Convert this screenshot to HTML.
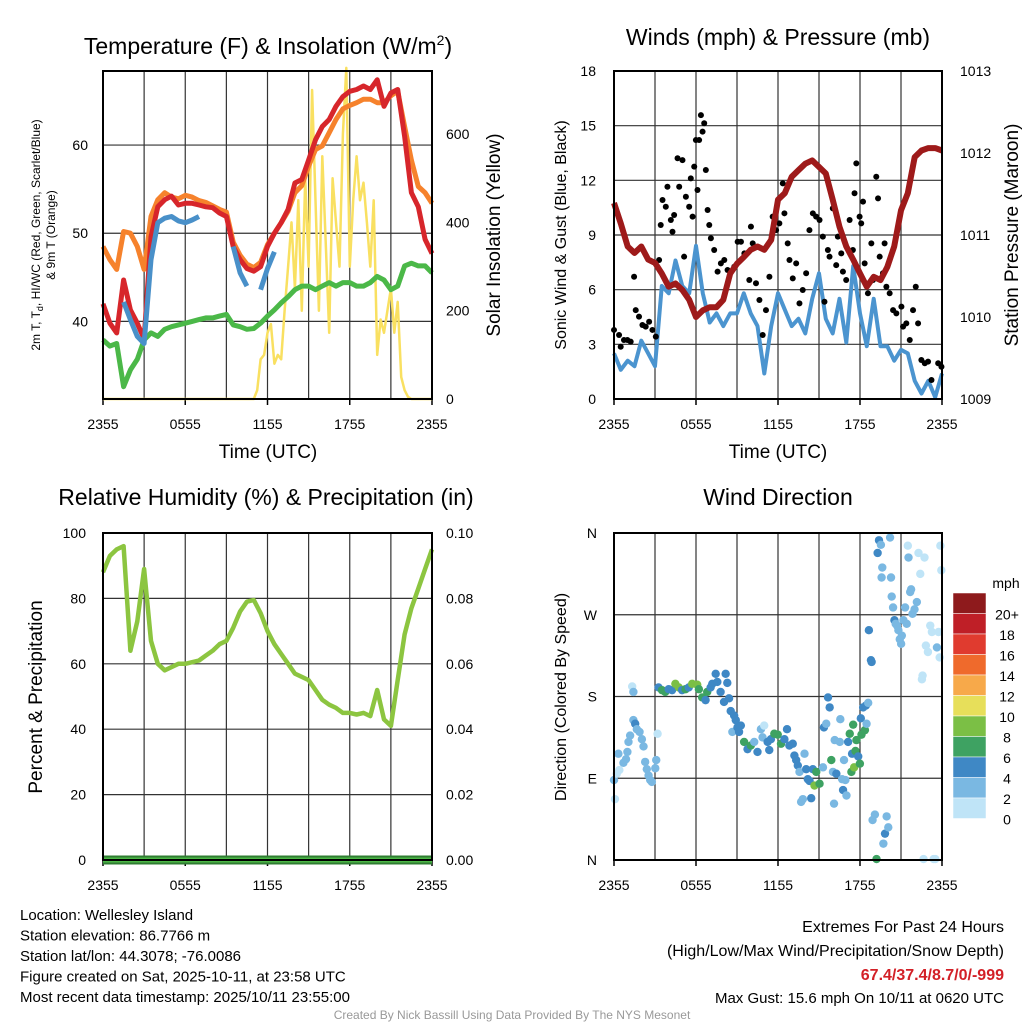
<!DOCTYPE html>
<html><head><meta charset="utf-8"><style>
html,body{margin:0;padding:0;background:#fff;}
svg{display:block;font-family:"Liberation Sans",sans-serif;}
</style></head><body>
<svg id="chart" width="1024" height="1024" viewBox="0 0 1024 1024"></svg>
<script>
// ---------- DATA ----------
const halfHours = Array.from({length:49},(_,i)=>i*0.5);
const tempRed = [42,39.8,38.7,44.7,41.3,39.8,38,49.6,53,53.8,54.2,53.2,53.4,53.4,53.2,53,52.9,52.3,51.9,48.5,47,46,45.7,46.2,48.5,50,51.2,52.7,55.7,56.1,58.3,60.6,62.1,62.9,64.4,65.5,66.1,66.3,66.7,66.3,67.4,64.4,65.9,66.3,61,54.6,53,49.3,47.7];
const tempOrange = [48.5,47,45.9,50.2,50,48.5,45.9,51.9,53.8,54.6,54.1,53.9,54.3,54.1,53.7,53.5,53.1,52.7,52.4,49,47.5,46.5,46.1,46.7,48.7,50,51.2,52.5,54.6,55.4,57.6,59.5,59.9,61.4,62.9,64.1,64.5,64.8,65.2,65.2,64.8,64.8,65.6,66.1,62.1,58.3,55.3,54.6,53.4];
const tempBlue = [null,null,null,42.2,40.2,38.3,37.5,47,51.2,51.7,51.9,51.4,51.2,51.5,51.9,null,51.7,null,null,48.5,45.5,44,null,43.6,46,47.9,null,null,null,null,null,null,null,null,null,null,null,null,null,null,null,null,null,null,null,null,null,null,null];
const tempGreen = [37.9,37.2,37.5,32.6,34.5,35.7,37.9,38.7,38.3,39.1,39.4,39.6,39.8,40,40.2,40.4,40.4,40.6,40.8,39.6,39.4,39.1,39.2,39.8,40.6,41.3,42.1,42.8,43.6,44,44,43.6,44,44.4,44,44.4,44.4,44,44,44.4,45.1,44.7,43.6,44,46.3,46.6,46.3,46.3,45.5];
const quarterHours = Array.from({length:97},(_,i)=>i*0.25);
const solar = [0,0,0,0,0,0,0,0,0,0,0,0,0,0,0,0,0,0,0,0,0,0,0,0,0,0,0,0,0,0,0,0,0,0,0,0,0,0,0,0,0,0,0,0,0,20,90,100,150,170,80,100,90,200,300,400,250,450,200,500,300,700,450,200,550,350,150,500,400,300,600,750,300,450,550,450,490,400,300,450,100,180,150,200,250,150,220,50,20,5,0,0,0,0,0,0,0];
const windSpeed = [2.5,1.6,2.1,1.8,3.2,2.5,1.8,6.2,5.8,7.6,6.2,5.8,8.4,5.8,4.2,4.7,4,4.7,4.7,5.8,4.7,4,1.4,4,5.8,4.9,4,4.4,3.6,5.5,6.9,4.4,3.6,5.5,3.1,7.3,4.7,2.9,5.5,2.9,2.9,2.1,2.7,2.5,1,0.3,1,0.1,1.4];
const pressure = [1011.39,1011.14,1010.86,1010.78,1010.86,1010.7,1010.66,1010.53,1010.37,1010.41,1010.33,1010.21,1010,1010.08,1010.12,1010.12,1010.21,1010.53,1010.65,1010.73,1010.82,1010.86,1010.82,1010.94,1011.43,1011.51,1011.71,1011.79,1011.87,1011.91,1011.83,1011.75,1011.43,1011.1,1010.86,1010.7,1010.53,1010.37,1010.49,1010.45,1010.61,1010.86,1011.3,1011.51,1011.95,1012.03,1012.06,1012.06,1012.03];
const gustHours = [0,0.37,0.49,0.73,0.98,1.22,1.47,1.59,1.83,2.08,2.32,2.57,2.81,3.06,3.3,3.42,3.55,3.79,3.91,4.16,4.28,4.4,4.65,4.77,5.01,5.13,5.26,5.5,5.62,5.75,5.87,5.99,6.11,6.23,6.36,6.48,6.6,6.72,6.85,6.97,7.09,7.33,7.58,7.82,8.07,8.31,8.8,9.05,9.29,9.54,9.9,10.02,10.15,10.39,10.64,10.88,11.12,11.37,11.61,11.86,12.1,12.35,12.47,12.71,12.84,13.08,13.33,13.57,13.81,14.06,14.3,14.55,14.79,15.04,15.28,15.4,15.65,15.77,16.01,16.26,16.38,16.63,16.75,16.99,17.24,17.48,17.6,17.73,17.97,18.09,18.22,18.34,18.58,18.83,18.95,19.19,19.32,19.44,19.68,19.8,19.93,20.17,20.42,20.66,21.03,21.15,21.39,21.64,21.88,22.08,22.25,22.49,22.74,22.98,23.23,23.72,23.96];
const gustSpeed = [3.79,3.51,2.87,3.24,3.24,3.15,6.71,4.88,4.52,4.06,3.97,4.24,3.79,3.42,7.63,9.55,10.92,10.55,11.65,9.82,9.18,10.1,13.21,11.65,13.11,7.81,11.1,10.55,12.11,10.01,12.75,14.21,11.47,14.21,15.58,14.67,15.13,12.57,10.37,9.55,8.82,8.18,6.99,7.44,7.63,7.08,7.26,8.63,8.63,7.99,6.53,9.46,8.54,6.35,5.43,3.51,4.88,6.71,10.01,9.27,9.64,11.83,10.19,8.54,7.63,6.62,7.44,5.25,5.98,6.9,9.27,10.19,10.01,9.82,8.91,5.34,8.18,7.81,10.46,7.35,8.91,7.99,6.99,6.53,9.82,8.18,11.29,12.93,10.01,9.64,10.83,7.44,5.8,8.54,6.53,12.2,11.01,7.81,6.9,8.54,6.16,5.8,4.88,4.7,5.07,3.97,4.15,3.24,4.88,6.16,4.15,2.14,1.96,2.05,1.04,1.96,1.77];
const rhValues = [88,93,95,96,64,73,89,67,60,58,59,60,60,60.5,61,62.5,64,66,67,71,76,79,79.5,75.5,70,66,63,60,57,56,55,52,49,47.5,46.5,45,45,44.5,45,44,52,43,41,55,69,77,83,89,95];
const precip = [0,0,0,0,0,0,0,0,0,0,0,0,0,0,0,0,0,0,0,0,0,0,0,0,0,0,0,0,0,0,0,0,0,0,0,0,0,0,0,0,0,0,0,0,0,0,0,0,0];
const dirHours = [0,0.2,0.39,0.07,0.32,0.69,0.88,0.98,1.06,1.18,1.42,1.55,1.67,1.87,2.04,2.16,1.33,1.42,2.28,2.4,2.53,2.65,2.77,3.02,3.09,3.19,3.26,3.51,3.75,4,4.25,4.49,4.74,4.98,5.23,5.47,5.72,6.09,6.21,6.45,6.7,6.82,7.07,7.19,7.44,7.56,7.8,8.05,8.17,8.29,8.42,8.54,8.79,8.91,8.66,9.03,9.28,9.15,9.52,9.77,10.01,10.26,10.5,10.75,10.87,10.99,11.24,11.36,11.48,11.73,11.98,12.22,12.47,12.66,12.83,13.08,13.2,13.33,13.45,13.57,13.69,13.82,13.94,14.06,14.18,14.31,14.43,14.55,14.67,14.8,15.04,15.29,15.36,15.53,15.66,15.78,15.9,16.02,16.1,16.15,16.27,16.52,16.56,16.69,16.83,16.93,16.76,17.01,17.13,17.25,17.37,17.42,17.5,17.57,17.67,17.74,17.87,17.99,18.06,18.11,18.23,18.36,18.43,18.48,18.6,18.65,18.8,18.85,18.92,19.09,19.21,19.29,19.39,19.53,19.58,19.63,19.71,19.83,19.95,20.07,20.2,20.27,20.32,20.42,20.52,20.61,20.71,20.81,20.91,21.01,21.06,21.18,21.3,21.42,21.5,21.55,21.67,21.74,21.84,21.99,22.16,22.28,22.41,22.53,22.58,22.65,22.72,22.82,22.97,23.14,23.26,23.39,23.51,23.63,23.75,23.83,23.88,23.95];
const dirDeg = [88,95,99,67,117,107,111,119,130,137,154,150,144,141,133,125,191,185,108,100,93,88,86,101,110,139,190,187,185,188,187,194,190,187,188,190,194,193,188,179,176,185,190,194,205,196,185,174,205,195,178,164,159,154,141,146,148,141,130,122,126,130,119,144,135,148,130,121,133,139,138,128,133,144,126,128,115,110,104,97,64,67,117,100,89,87,68,100,82,97,84,102,146,150,179,168,110,97,62,132,95,130,155,89,110,88,77,71,130,139,97,117,149,102,120,132,114,106,156,138,168,143,170,150,173,253,220,218,44,50,1,338,352,347,311,322,18,29,48,36,355,311,290,278,264,260,258,253,243,238,247,264,278,260,346,333,295,298,271,276,284,338,315,199,203,1,333,236,229,258,251,1,1,234,251,223,346,319];
const dirSpd = [3,1,1,1,3,3,3,3,3,3,3,5,3,3,3,3,1,3,3,3,3,3,3,3,3,1,5,7,7,5,5,9,9,5,7,5,9,9,7,7,5,7,5,5,5,5,5,5,5,5,5,5,5,5,3,5,5,5,7,5,7,3,5,3,3,1,5,5,5,7,7,7,5,5,5,5,5,5,5,3,3,3,3,5,5,5,5,5,9,7,7,3,5,3,5,5,7,3,3,3,5,3,3,3,3,3,5,3,5,7,7,5,7,9,7,7,5,7,5,7,5,7,5,3,3,5,5,5,3,3,7,5,5,3,3,3,3,5,3,3,3,3,3,3,5,3,3,3,3,3,3,3,3,3,1,3,3,3,3,3,3,1,1,1,1,1,1,1,1,1,1,1,1,3,1,1,1,1];
const xTickLabels = ["2355","0555","1155","1755","2355"];
const speedBins = ["0","2","4","6","8","10","12","14","16","18","20+"];
const speedColors = ["#bfe4f7","#7ab8e2","#3f88c5","#3ea262","#7bbf45","#e7df5a","#f7a94a","#ef6a2c","#e03b2f","#bf1f27","#8e1a1c"];

// ---------- HELPERS ----------
const NS="http://www.w3.org/2000/svg";
const svg=document.getElementById('chart');
function mk(tag,attrs,parent){const e=document.createElementNS(NS,tag);for(const k in attrs)e.setAttribute(k,attrs[k]);(parent||svg).appendChild(e);return e;}
function txt(s,x,y,size,anchor,parent,extra){const t=mk('text',Object.assign({x:x,y:y,'font-size':size,'text-anchor':anchor||'middle',fill:'#000'},extra||{}),parent);t.textContent=s;return t;}
function lin(d0,d1,r0,r1){return v=>r0+(v-d0)*(r1-r0)/(d1-d0);}
function pathD(xs,ys,xf,yf){let d='',pen=false;for(let i=0;i<xs.length;i++){if(ys[i]==null){pen=false;continue;}d+=(pen?'L':'M')+xf(xs[i]).toFixed(1)+','+yf(ys[i]).toFixed(1);pen=true;}return d;}

function panel(name,x0,x1,y0,y1,yTicks,yf){
  const g=mk('g',{});
  
  
  const xf=lin(0,24,x0,x1);
  for(let h=3;h<24;h+=3){const l=mk('line',{x1:xf(h),x2:xf(h),y1:y0,y2:y1,stroke:'#333','stroke-width':1.2},g);
    }
  yTicks.forEach(v=>{const y=yf(v);const l=mk('line',{x1:x0,x2:x1,y1:y,y2:y,stroke:'#333','stroke-width':1.2},g);
    });
  xTickLabels.forEach((s,i)=>{const t=txt(s,xf(i*6),y1+30,14,'middle',g);
    
    mk('line',{x1:xf(i*6),x2:xf(i*6),y1:y1,y2:y1+6,stroke:'#000','stroke-width':1.5},g);});
  return {g,xf};
}
function frame(g,x0,x1,y0,y1){const r=mk('rect',{x:x0,y:y0,width:x1-x0,height:y1-y0,fill:'none',stroke:'#000','stroke-width':2},g);
  }
function rotLabel(s,x,y,size,g,name){const t=txt(s,x,y,size,'middle',g,{transform:`rotate(-90 ${x} ${y})`});
  return t;}
function title(s,x,y,g,name){const t=txt(s,x,y,23,'middle',g);return t;}

// ---------- PANEL 1 ----------
(function(){
  const x0=103,x1=432,y0=71,y1=399;
  const yT=lin(31.2,68.4,y1,y0), yS=lin(0,743,y1,y0);
  const {g,xf}=panel('temperature-panel',x0,x1,y0,y1,[40,50,60],yT);
  [40,50,60].forEach(v=>{const t=txt(String(v),88,yT(v)+5,14,'end',g);});
  [0,200,400,600].forEach(v=>{const t=txt(String(v),446,yS(v)+5,14,'start',g);});
  let p;
  p=mk('path',{d:pathD(quarterHours,solar,xf,yS),fill:'none',stroke:'#f9e061','stroke-width':2.5,'stroke-linejoin':'round'},g);
  
  p=mk('path',{d:pathD(halfHours,tempGreen,xf,yT),fill:'none',stroke:'#4bb848','stroke-width':5,'stroke-linejoin':'round'},g);
  
  p=mk('path',{d:pathD(halfHours,tempOrange,xf,yT),fill:'none',stroke:'#f6822c','stroke-width':5,'stroke-linejoin':'round'},g);
  
  p=mk('path',{d:pathD(halfHours,tempRed,xf,yT),fill:'none',stroke:'#d7262b','stroke-width':5,'stroke-linejoin':'round'},g);
  
  p=mk('path',{d:pathD(halfHours,tempBlue,xf,yT),fill:'none',stroke:'#4990c9','stroke-width':5,'stroke-linejoin':'round'},g);
  
  frame(g,x0,x1,y0,y1);
  const tt=txt('',268,54,23,'middle',g);
  tt.innerHTML='Temperature (F) &amp; Insolation (W/m<tspan dy="-9" font-size="14">2</tspan><tspan dy="9">)</tspan>';
  const xa=txt('Time (UTC)',268,458,19,'middle',g);
  const l1=txt('',40,235,12,'middle',g,{transform:'rotate(-90 40 235)'});
  
  l1.innerHTML='2m T, T<tspan dy="3" font-size="9">d</tspan><tspan dy="-3">, HI/WC (Red, Green, Scarlet/Blue)</tspan>';
  rotLabel('& 9m T (Orange)',55,235,12,g,'temperature-axis-title-2');
  rotLabel('Solar Insolation (Yellow)',500,235,19,g,'solar-axis-title');
})();

// ---------- PANEL 2 ----------
(function(){
  const x0=614,x1=942,y0=71,y1=399;
  const yW=lin(0,18,y1,y0), yP=lin(1009,1013,y1,y0);
  const {g,xf}=panel('wind-panel',x0,x1,y0,y1,[3,6,9,12,15],yW);
  [0,3,6,9,12,15,18].forEach(v=>{const t=txt(String(v),596,yW(v)+5,14,'end',g);});
  [1009,1010,1011,1012,1013].forEach(v=>{const t=txt(String(v),960,yP(v)+5,14,'start',g);});
  let p=mk('path',{d:pathD(halfHours,windSpeed,xf,yW),fill:'none',stroke:'#4b94cf','stroke-width':4,'stroke-linejoin':'round'},g);
  
  gustHours.forEach((h,i)=>{const c=mk('circle',{cx:xf(h),cy:yW(gustSpeed[i]),r:3,fill:'#000'},g);
    });
  p=mk('path',{d:pathD(halfHours,pressure,xf,yP),fill:'none',stroke:'#9e1a1a','stroke-width':6,'stroke-linejoin':'round'},g);
  
  frame(g,x0,x1,y0,y1);
  title('Winds (mph) & Pressure (mb)',778,45,g,'wind-title');
  const xa=txt('Time (UTC)',778,458,19,'middle',g);
  rotLabel('Sonic Wind & Gust (Blue, Black)',566,235,16,g,'wind-axis-title');
  rotLabel('Station Pressure (Maroon)',1018,235,19,g,'pressure-axis-title');
})();

// ---------- PANEL 3 ----------
(function(){
  const x0=103,x1=432,y0=533,y1=860;
  const yR=lin(0,100,y1,y0), yPr=lin(0,0.1,y1,y0);
  const {g,xf}=panel('humidity-panel',x0,x1,y0,y1,[20,40,60,80],yR);
  [0,20,40,60,80,100].forEach(v=>{const t=txt(String(v),86,yR(v)+5,14,'end',g);});
  ['0.00','0.02','0.04','0.06','0.08','0.10'].forEach(s=>{const t=txt(s,446,yPr(parseFloat(s))+5,14,'start',g);});
  let p=mk('path',{d:pathD(halfHours,rhValues,xf,yR),fill:'none',stroke:'#8cc540','stroke-width':4.5,'stroke-linejoin':'round'},g);
  
  p=mk('path',{d:pathD(halfHours,precip,xf,yPr),fill:'none',stroke:'#2f7d32','stroke-width':9},g);
  
  p=mk('path',{d:pathD(halfHours,precip,xf,yPr),fill:'none',stroke:'#4cb847','stroke-width':5},g);
  
  frame(g,x0,x1,y0,y1);
  title('Relative Humidity (%) & Precipitation (in)',266,505,g,'humidity-title');
  rotLabel('Percent & Precipitation',42,697,19,g,'humidity-axis-title');
})();

// ---------- PANEL 4 ----------
(function(){
  const x0=614,x1=942,y0=533,y1=860;
  const yD=lin(0,360,y1,y0);
  const {g,xf}=panel('wind-direction-panel',x0,x1,y0,y1,[90,180,270],yD);
  ['N','E','S','W','N'].forEach((s,i)=>{const t=txt(s,597,yD(i*90)+5,14,'end',g);});
  dirHours.forEach((h,i)=>{const bin=Math.min(10,Math.floor(dirSpd[i]/2));const c=mk('circle',{cx:xf(h),cy:yD(dirDeg[i]),r:4.2,fill:speedColors[bin]},g);
    });
  frame(g,x0,x1,y0,y1);
  title('Wind Direction',778,505,g,'wind-direction-title');
  rotLabel('Direction (Colored By Speed)',566,697,16,g,'direction-axis-title');
  const lg=mk('g',{});
  const mt=txt('mph',1006,588,14,'middle',lg);
  const bh=20.5;
  for(let k=10;k>=0;k--){const y=593+(10-k)*bh;
    const r=mk('rect',{x:953,y:y,width:33,height:bh,fill:speedColors[k],stroke:'#fff','stroke-width':0.5},lg);
    
    const t=txt(speedBins[k],1007,y+bh/2+16,14,'middle',lg);}
})();

// ---------- FOOTER TEXT ----------
(function(){
  const g=mk('g',{});
  ['Location: Wellesley Island','Station elevation: 86.7766 m','Station lat/lon: 44.3078; -76.0086','Figure created on Sat, 2025-10-11, at 23:58 UTC','Most recent data timestamp: 2025/10/11 23:55:00'].forEach((s,i)=>{
    const t=txt(s,20,920+i*20.5,15,'start',g);});
  const r=mk('g',{});
  let t=txt('Extremes For Past 24 Hours',1004,932,16,'end',r);
  t=txt('(High/Low/Max Wind/Precipitation/Snow Depth)',1004,956,16,'end',r);
  t=txt('67.4/37.4/8.7/0/-999',1004,980,16,'end',r,{fill:'#d32027','font-weight':'bold'});
  t=txt('Max Gust: 15.6 mph On 10/11 at 0620 UTC',1004,1003,15,'end',r);
  t=txt('Created By Nick Bassill Using Data Provided By The NYS Mesonet',512,1019,12,'middle',svg,{fill:'#999'});
})();
</script>
</body></html>
